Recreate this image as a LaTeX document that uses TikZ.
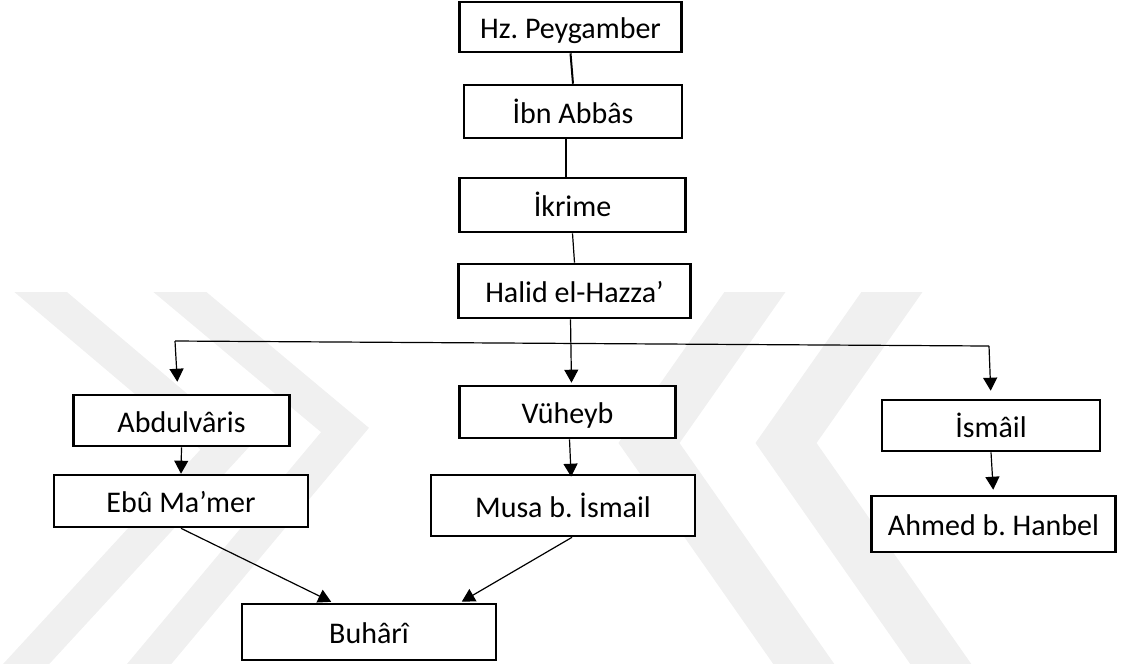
\documentclass[tikz,border=0pt]{standalone}
\usepackage{fontspec}
\setmainfont{Carlito}
\usetikzlibrary{positioning}
\usetikzlibrary{arrows.meta}
\tikzset{
bx/.style={
  rectangle,
  inner sep=0pt,
  line width=1.3pt,
  draw=black,
  fill=white,
  text height=12.5pt,
  text depth=1pt,
  font=\fontsize{15}{17}\selectfont\frenchspacing
  },
wm/.style={
  draw=black!6,
  line join=miter,
  line cap=butt
  }
}

\begin{document}
\begin{tikzpicture}[x=0.5pt,y=-0.5pt,>={Triangle[width=7pt,length=6.5pt]},line width=0.6pt]
\useasboundingbox (0,0) rectangle (1128,666);
% watermark
\begin{scope}
\clip (0,292) rectangle (1128,663);
\draw[wm,line width=17pt] (-9,250) -- (225,448) -- (-7,700);
\draw[wm,line width=17pt] (132,252) -- (345,430) -- (119,700);
\draw[wm,line width=25pt] (783,252) -- (649,443) -- (829,700);
\draw[wm,line width=25pt] (920,252) -- (786,443) -- (966,700);
\end{scope}
% boxes
\node[bx,minimum width=111pt,minimum height=25pt] (peyg) at (570.5,27) {Hz. Peygamber};
\node[bx,minimum width=109pt,minimum height=26.5pt] (abbas) at (573,111.5) {İbn Abbâs};
\node[bx,minimum width=113pt,minimum height=27pt] (ikrime) at (572.5,205) {İkrime};
\node[bx,minimum width=116pt,minimum height=27pt] (halid) at (574.5,291) {Halid el-Hazza’};
\node[bx,minimum width=108pt,minimum height=25.5pt] (abdul) at (181.5,420.5) {Abdulvâris};
\node[bx,minimum width=127pt,minimum height=26pt] (ebu) at (181,501) {Ebû Ma’mer};
\node[bx,minimum width=108pt,minimum height=26pt] (vuheyb) at (567.5,412) {Vüheyb};
\node[bx,minimum width=132pt,minimum height=30.5pt] (musa) at (563,505.5) {Musa b. İsmail};
\node[bx,minimum width=109pt,minimum height=25.5pt] (ismail) at (991,425.5) {İsmâil};
\node[bx,minimum width=122pt,minimum height=28pt] (ahmed) at (993.5,524) {Ahmed b. Hanbel};
\node[bx,minimum width=127pt,minimum height=28pt] (buhari) at (369,632) {Buhârî};
\coordinate (busL) at (175,341);
\coordinate (busR) at (989,346);
% lines
\draw[line width=1pt] (peyg.south) -- (abbas.north);
\draw ([xshift=-3.5pt]abbas.south) -- ([xshift=-3.25pt]ikrime.north);
\draw (ikrime.south) -- (halid.north);
\draw (busL) -- (busR);
\path[->]
([xshift=-2pt]halid.south) edge [shorten >=1pt] ([xshift=2pt]vuheyb.north)
(busL) edge [shorten >=6pt] ([xshift=-1.75pt]abdul.north)
(busR) edge [shorten >=4pt] (ismail.north)
(abdul.south) edge [] (ebu.north)
([xshift=1pt]vuheyb.south) edge [shorten >=-1.5pt] ([xshift=4pt]musa.north)
(ismail.south) edge [shorten >=2.5pt] (ahmed.north)
(ebu.south) edge [shorten >=1pt] ([xshift=-18pt]buhari.north)
([xshift=4.5pt]musa.south) edge [shorten >=1pt] ([xshift=45.5pt]buhari.north)
;
\end{tikzpicture}
\end{document}
